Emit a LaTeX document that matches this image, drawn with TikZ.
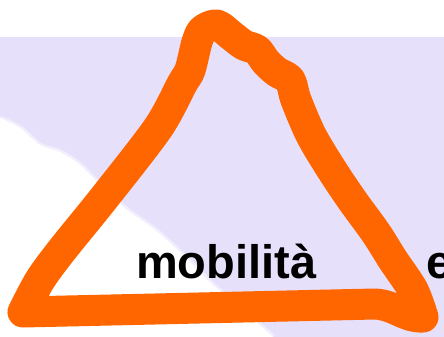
\documentclass[tikz,border=0pt]{standalone}
\usepackage{fontspec}
\setmainfont{Liberation Sans}
\definecolor{lilac}{HTML}{E6E0FA}
\definecolor{hlorange}{HTML}{FF6600}

\begin{document}
\begin{tikzpicture}[x=1pt, y=-1pt,
  scribble/.style={draw=hlorange, line width=31pt, line cap=round, line join=round},
  bigword/.style={font=\fontsize{47}{52}\selectfont\bfseries, text=black,
                  inner sep=0pt, anchor=base west}
]
\useasboundingbox (0,0) rectangle (444,337);

% Background
\fill[lilac] (0,37) rectangle (444,337);
\def\streakedge{(0,118) (20,128) (40,145) (60,152) (80,165) (105,190) (127,210)
  (150,226) (167,240) (190,262) (213,285) (245,312) (273,337)}
\fill[white] plot[smooth] coordinates {\streakedge} -- (0,337) -- cycle;
\draw[white, line width=5pt, opacity=0.5] plot[smooth] coordinates {\streakedge};

% Labels
\node[bigword] (mobilita) at (136,278) {mobilità};
\node[bigword] (conj) at (426,278) {e};

% Hand-drawn triangle
\draw[scribble] (23,312) -- (375,304) .. controls (395,305) and (405,318) .. (423,317)
  -- plot[smooth, tension=0.5] coordinates {(423,317) (413,290) (393,260) (376,233)
     (352,200) (330,167) (311,135) (296,100) (290,80) (277,72) (266,62) (257,50)
     (244,45) (232,36) (217,25) (203,30) (197,42) (190,70) (182,84) (158,128)
     (104,198) (62,250) (40,280) (23,312)} -- cycle;

\end{tikzpicture}
\end{document}
